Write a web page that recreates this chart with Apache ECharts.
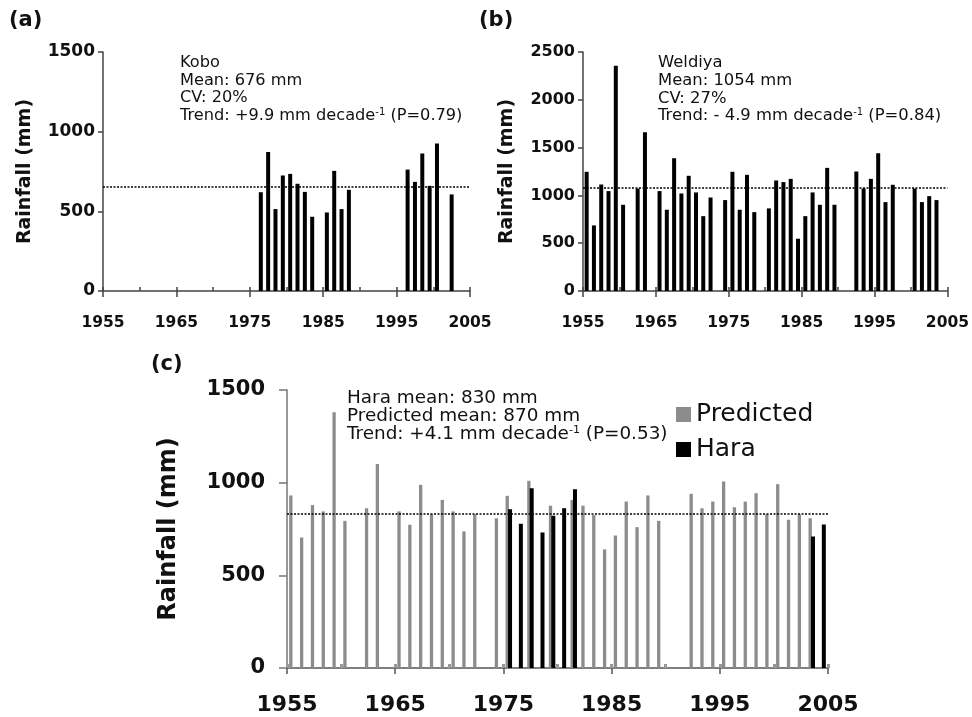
<!DOCTYPE html>
<html>
<head>
<meta charset="utf-8">
<script src="https://cdn.jsdelivr.net/npm/echarts@6/dist/echarts.min.js"></script>
<style>
  body { margin: 0; background: #fff; }
  #main { width: 972px; height: 717px; }
</style>
</head>
<body>
<div id="main"></div>
<script>
// years 1955 - 2004, one category per year
var years = [1955, 1956, 1957, 1958, 1959, 1960, 1961, 1962, 1963, 1964,
  1965, 1966, 1967, 1968, 1969, 1970, 1971, 1972, 1973, 1974,
  1975, 1976, 1977, 1978, 1979, 1980, 1981, 1982, 1983, 1984,
  1985, 1986, 1987, 1988, 1989, 1990, 1991, 1992, 1993, 1994,
  1995, 1996, 1997, 1998, 1999, 2000, 2001, 2002, 2003, 2004];
var tickYears = ["1955", "1965", "1975", "1985", "1995", "2005"];

// (a) Kobo
var koboRain = [null, null, null, null, null, null, null, null, null, null,
  null, null, null, null, null, null, null, null, null, null,
  null, 620, 873, 514, 725, 735, 673, 622, 466, null,
  493, 754, 514, 635, null, null, null, null, null, null,
  null, 762, 685, 863, 660, 925, null, 606, null, null];
var koboMean = 652;

// (b) Weldiya
var weldiyaRain = [1247, 686, 1114, 1045, 2357, 902, null, 1072, 1661, null,
  1045, 850, 1389, 1020, 1205, 1031, 783, 978, null, 951,
  1247, 850, 1215, 825, null, 864, 1156, 1139, 1173, 547,
  783, 1031, 902, 1288, 902, null, null, 1250, 1072, 1173,
  1442, 930, 1111, null, null, 1072, 930, 992, 951, null];
var weldiyaMean = 1079;

// (c) Hara, predicted and observed
var predictedRain = [931, 704, 880, 845, 1380, 794, null, 862, 1101, null,
  845, 773, 988, 830, 907, 845, 737, 830, null, 808,
  929, null, 1010, null, 875, null, 907, 876, 825, 640,
  715, 898, 760, 931, 794, null, null, 940, 862, 898,
  1006, 868, 898, 943, 830, 992, 800, 830, 808, null];
var haraRain = [null, null, null, null, null, null, null, null, null, null,
  null, null, null, null, null, null, null, null, null, null,
  857, 778, 970, 731, 821, 862, 965, null, null, null,
  null, null, null, null, null, null, null, null, null, null,
  null, null, null, null, null, null, null, null, 710, 774];
var haraMean = 832;

var FONT = "DejaVu Sans";

function xAxes(g, axisColor, labelSize, labelMargin, minorColor, minorWidth) {
  return [
    { type: "category", gridIndex: g, position: "bottom", data: years, boundaryGap: true, show: false },
    {
      type: "value", gridIndex: g, position: "bottom", offset: 0, min: 0, max: 50, interval: 10,
      axisLine: { lineStyle: { color: axisColor, width: 1.5 } },
      axisTick: { show: true, length: 6, lineStyle: { color: axisColor, width: 1.5 } },
      splitLine: { show: false },
      axisLabel: {
        margin: labelMargin, fontFamily: FONT, fontWeight: "bold", fontSize: labelSize, color: "#111",
        formatter: function (v) { return tickYears[v / 10]; }
      }
    },
    {
      type: "value", gridIndex: g, position: "bottom", offset: 0, min: 0, max: 50, interval: 5,
      axisLine: { show: false },
      axisTick: { show: true, inside: true, length: 4, lineStyle: { color: minorColor, width: minorWidth } },
      axisLabel: { show: false },
      splitLine: { show: false }
    }
  ];
}

function yAxis(g, max, axisColor, labelSize, labelMargin, tickLen, nameSize, nameGap) {
  return {
    type: "value", gridIndex: g, position: "left", min: 0, max: max, interval: 500,
    name: "Rainfall (mm)", nameLocation: "middle", nameGap: nameGap,
    nameTextStyle: { fontFamily: FONT, fontWeight: "bold", fontSize: nameSize, color: "#111" },
    axisLine: { show: true, lineStyle: { color: axisColor, width: 1.5 } },
    axisTick: { show: true, length: tickLen, lineStyle: { color: axisColor, width: 1.5 } },
    splitLine: { show: false },
    axisLabel: {
      margin: labelMargin, fontFamily: FONT, fontWeight: "bold", fontSize: labelSize, color: "#111",
      formatter: function (v) { return String(v); }
    }
  };
}

function meanLine(v) {
  return {
    silent: true,
    symbol: ["none", "none"],
    label: { show: false },
    lineStyle: { color: "#000", type: [2, 1.5], width: 1.5 },
    data: [{ yAxis: v }]
  };
}

function note(left, top, size, lh, text) {
  return {
    type: "text", left: left, top: top,
    style: {
      text: text,
      fontFamily: FONT, fontSize: size, lineHeight: lh, fill: "#111",
      rich: {
        sup: { fontFamily: FONT, fontSize: Math.round(size * 0.6), lineHeight: lh, verticalAlign: "top", fill: "#111" }
      }
    }
  };
}

function panelLabel(left, top, text) {
  return {
    type: "text", left: left, top: top,
    style: { text: text, fontFamily: FONT, fontWeight: "bold", fontSize: 21, fill: "#111" }
  };
}

var chart = echarts.init(document.getElementById("main"));
chart.setOption({
  animation: false,
  backgroundColor: "#fff",
  grid: [
    { left: 103, top: 52, width: 367, height: 239 },
    { left: 583, top: 52, width: 365, height: 239 },
    { left: 287, top: 390, width: 541, height: 278 }
  ],
  xAxis: []
    .concat(xAxes(0, "#444", 15.5, 24, "#444", 1.5))
    .concat(xAxes(1, "#444", 15.5, 24, "#444", 1.5))
    .concat(xAxes(2, "#555", 22, 26, "#999", 3)),
  yAxis: [
    yAxis(0, 1500, "#444", 17, 8, 5, 19, 68),
    yAxis(1, 2500, "#444", 16, 8, 5, 19, 66),
    yAxis(2, 1500, "#777", 21, 22, 8, 24, 106)
  ],
  legend: {
    data: ["Predicted", "Hara"],
    orient: "vertical",
    left: 671, top: 395,
    icon: "rect",
    itemWidth: 15, itemHeight: 15, itemGap: 6,
    textStyle: { fontFamily: FONT, fontSize: 25, color: "#111", lineHeight: 29 }
  },
  graphic: [
    panelLabel(9, 10, "(a)"),
    panelLabel(479, 10, "(b)"),
    panelLabel(151, 354, "(c)"),
    note(180, 54, 16.2, 17.7,
      "Kobo\nMean: 676 mm\nCV: 20%\nTrend: +9.9 mm decade{sup|-1} (P=0.79)"),
    note(658, 54, 16.4, 17.7,
      "Weldiya\nMean: 1054 mm\nCV: 27%\nTrend: - 4.9 mm decade{sup|-1} (P=0.84)"),
    note(347, 389, 18.4, 18,
      "Hara mean: 830 mm\nPredicted mean: 870 mm\nTrend: +4.1 mm decade{sup|-1} (P=0.53)")
  ],
  series: [
    {
      name: "Kobo", type: "bar", xAxisIndex: 0, yAxisIndex: 0,
      data: koboRain, barWidth: 4, itemStyle: { color: "#000" },
      markLine: meanLine(koboMean)
    },
    {
      name: "Weldiya", type: "bar", xAxisIndex: 3, yAxisIndex: 1,
      data: weldiyaRain, barWidth: 4, itemStyle: { color: "#000" },
      markLine: meanLine(weldiyaMean)
    },
    {
      name: "Predicted", type: "bar", xAxisIndex: 6, yAxisIndex: 2,
      data: predictedRain, barWidth: 3.3, barGap: "-25%", itemStyle: { color: "#8c8c8c" },
      markLine: meanLine(haraMean)
    },
    {
      name: "Hara", type: "bar", xAxisIndex: 6, yAxisIndex: 2,
      data: haraRain, barWidth: 4, barGap: "-25%", itemStyle: { color: "#000" }
    }
  ]
});
</script>
</body>
</html>
